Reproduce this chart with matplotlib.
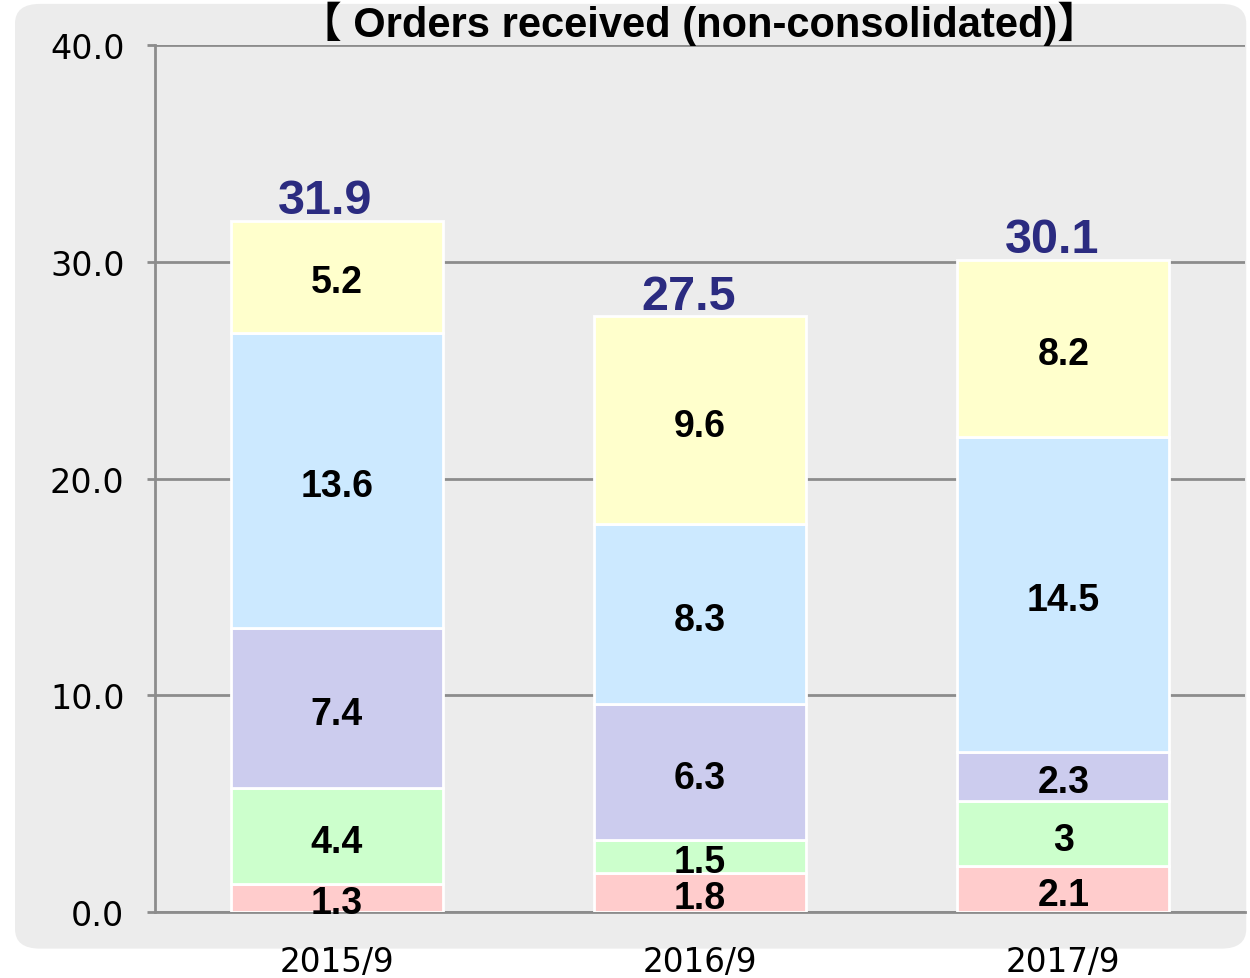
import matplotlib
matplotlib.use("Agg")
import matplotlib.pyplot as plt
from matplotlib.patches import FancyBboxPatch

# -----------------------------------------
# Data
# -----------------------------------------

periods = ["2015/9", "2016/9", "2017/9"]
seg_pink = [1.3, 1.8, 2.1]
seg_green = [4.4, 1.5, 3.0]
seg_lavender = [7.4, 6.3, 2.3]
seg_blue = [13.6, 8.3, 14.5]
seg_yellow = [5.2, 9.6, 8.2]
totals = [31.9, 27.5, 30.1]

seg_labels = [
    ["1.3", "1.8", "2.1"],
    ["4.4", "1.5", "3"],
    ["7.4", "6.3", "2.3"],
    ["13.6", "8.3", "14.5"],
    ["5.2", "9.6", "8.2"],
]

SERIES = [seg_pink, seg_green, seg_lavender, seg_blue, seg_yellow]
COLORS = ["#ffcccc", "#ccffcc", "#ccccee", "#cce9ff", "#ffffcc"]
GRID = "#8c8c8c"

# -----------------------------------------
# Plot
# -----------------------------------------

fig = plt.figure(figsize=(12.5, 9.79), dpi=100)
fig.patch.set_facecolor("white")

bg = FancyBboxPatch((0.012, 0.03), 0.985, 0.965,
                    boxstyle="round,pad=0,rounding_size=0.02",
                    transform=fig.transFigure, facecolor="#ececec",
                    edgecolor="none", zorder=0)
fig.patches.append(bg)

ax = fig.add_axes([0.124, 0.0674, 0.872, 0.8856])
ax.set_zorder(1)
ax.set_facecolor("none")

x = list(range(len(periods)))
bottom = [0.0] * len(periods)
for vals, col, labels in zip(SERIES, COLORS, seg_labels):
    bars = ax.bar(x, vals, width=0.584, bottom=bottom, color=col,
                  edgecolor="white", linewidth=2, zorder=3)
    for i, b in enumerate(bars):
        ax.annotate(labels[i], (b.get_x() + b.get_width() / 2, bottom[i] + vals[i] / 2),
                    xytext=(0, -4), textcoords="offset points",
                    ha="center", va="center", fontsize=27,
                    fontweight="bold", family="Liberation Sans", zorder=4)
    bottom = [b + v for b, v in zip(bottom, vals)]

# totals sit a little left of the bar centre in the original
for i, t in enumerate(totals):
    ax.annotate(f"{t:.1f}", (x[i], t), xytext=(-8, -2),
                textcoords="offset points", ha="center", va="bottom",
                fontsize=35, fontweight="bold", color="#2b2b80",
                family="Liberation Sans", zorder=4)

ax.set_xlim(-0.5, 2.5)
ax.set_ylim(0, 40)
ax.set_yticks([0, 10, 20, 30, 40])
ax.set_yticklabels(["0.0", "10.0", "20.0", "30.0", "40.0"])
ax.set_xticks(x)
ax.set_xticklabels(periods)
ax.tick_params(axis="y", length=6, width=2, color=GRID, labelsize=24, pad=16)
ax.tick_params(axis="x", length=0, labelsize=23.5, pad=24)

ax.grid(axis="y", color=GRID, linewidth=2, zorder=1)
ax.set_axisbelow(True)
for s in ["top", "right"]:
    ax.spines[s].set_visible(False)
ax.spines["left"].set_color(GRID)
ax.spines["left"].set_linewidth(2)
ax.spines["bottom"].set_color(GRID)
ax.spines["bottom"].set_linewidth(2)

ax.set_title("【 Orders received (non-consolidated)】", fontsize=30,
             fontweight="bold", family=["Liberation Sans", "Noto Sans CJK JP"],
             pad=-4)

fig.savefig("out.png", dpi=100)
